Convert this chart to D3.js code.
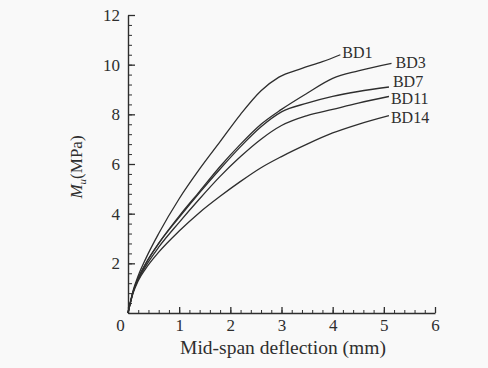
<!DOCTYPE html>
<html>
<head>
<meta charset="utf-8">
<script src="https://cdn.jsdelivr.net/npm/d3@7"></script>
<style>
  body { margin: 0; background: #f9f9f9; }
  svg { display: block; }
</style>
</head>
<body>
<div id="chart"></div>
<script>
// series names and readings (deflection mm, Mu MPa)
const names = ["BD1", "BD3", "BD7", "BD11", "BD14"];
const xBD1 = [0, 0.1, 0.2, 0.35, 0.6, 1.0, 1.4, 1.8, 2.2, 2.6, 2.95, 3.4, 3.8, 4.15];
const yBD1 = [0, 0.9, 1.5, 2.2, 3.2, 4.6, 5.8, 6.9, 8.0, 8.95, 9.5, 9.85, 10.12, 10.4];
const xBD3 = [0, 0.1, 0.2, 0.35, 0.6, 1.0, 1.4, 1.8, 2.2, 2.6, 3.0, 3.5, 4.0, 4.5, 5.15];
const yBD3 = [0, 0.85, 1.4, 2.0, 2.8, 3.9, 4.9, 5.9, 6.8, 7.6, 8.2, 8.85, 9.45, 9.75, 10.05];
const xBD7 = [0, 0.1, 0.2, 0.35, 0.6, 1.0, 1.4, 1.8, 2.2, 2.6, 3.0, 3.5, 4.0, 4.5, 5.1];
const yBD7 = [0, 0.85, 1.4, 2.0, 2.8, 3.85, 4.85, 5.8, 6.7, 7.5, 8.1, 8.45, 8.72, 8.92, 9.1];
const xBD11 = [0, 0.1, 0.2, 0.35, 0.6, 1.0, 1.4, 1.8, 2.2, 2.6, 3.0, 3.5, 4.0, 4.5, 5.1];
const yBD11 = [0, 0.85, 1.35, 1.9, 2.65, 3.65, 4.6, 5.5, 6.3, 7.0, 7.55, 7.95, 8.2, 8.45, 8.72];
const xBD14 = [0, 0.1, 0.2, 0.35, 0.6, 1.0, 1.4, 1.8, 2.2, 2.6, 3.0, 3.5, 4.0, 4.5, 5.1];
const yBD14 = [0, 0.8, 1.3, 1.8, 2.45, 3.3, 4.05, 4.7, 5.3, 5.85, 6.3, 6.8, 7.25, 7.6, 7.95];
const xTicks = [0, 1, 2, 3, 4, 5, 6];
const yTicks = [2, 4, 6, 8, 10, 12];

const xs = [xBD1, xBD3, xBD7, xBD11, xBD14];
const ys = [yBD1, yBD3, yBD7, yBD11, yBD14];
// label offsets from line end (px)
const labelDx = [2, 4, 4, 2, 2];
const labelDy = [-2, -1, -6, 2, 2];

const width = 488, height = 368;
const margin = { top: 15, right: 53, bottom: 55, left: 128 };
const w = width - margin.left - margin.right;
const h = height - margin.top - margin.bottom;
const serif = "'Liberation Serif', 'DejaVu Serif', serif";
const ink = "#2e2e2e";

const svg = d3.select("#chart").append("svg")
  .attr("width", width)
  .attr("height", height)
  .style("background", "#f9f9f9");

const g = svg.append("g")
  .attr("transform", "translate(" + margin.left + "," + margin.top + ")");

const xScale = d3.scaleLinear().domain([0, 6]).range([0, w]);
const yScale = d3.scaleLinear().domain([0, 12]).range([h, 0]);

// minor ticks first
g.append("g")
  .attr("transform", "translate(0," + h + ")")
  .call(d3.axisTop(xScale).tickValues(d3.range(0, 6.01, 0.2)).tickSize(3).tickFormat(""))
  .call(a => a.select(".domain").remove())
  .selectAll("line").attr("stroke", ink);

g.append("g")
  .call(d3.axisRight(yScale).tickValues(d3.range(0, 12.01, 0.4)).tickSize(4).tickFormat(""))
  .call(a => a.select(".domain").remove())
  .selectAll("line").attr("stroke", ink);

// x axis, ticks inward, labels below
const xAxis = g.append("g")
  .attr("transform", "translate(0," + h + ")")
  .call(d3.axisTop(xScale).tickValues(xTicks).tickSize(6).tickSizeOuter(0).tickFormat(d3.format("d")));
xAxis.attr("font-family", serif);
xAxis.select(".domain").attr("stroke", ink).attr("stroke-width", 1.4);
xAxis.selectAll(".tick line").attr("stroke", ink).attr("stroke-width", 1.3);
xAxis.selectAll(".tick text")
  .attr("y", 6)
  .attr("dy", "0.71em")
  .attr("fill", ink)
  .attr("font-family", serif)
  .style("font-size", "17px")
  .attr("x", d => d === 0 ? -8 : 0);

// y axis, ticks inward, labels left
const yAxis = g.append("g")
  .call(d3.axisRight(yScale).tickValues(yTicks).tickSize(7).tickSizeOuter(0).tickFormat(d3.format("d")));
yAxis.attr("font-family", serif);
yAxis.select(".domain").attr("stroke", ink).attr("stroke-width", 1.4);
yAxis.selectAll(".tick line").attr("stroke", ink).attr("stroke-width", 1.3);
yAxis.selectAll(".tick text")
  .attr("x", -8)
  .attr("text-anchor", "end")
  .attr("fill", ink)
  .attr("font-family", serif)
  .style("font-size", "17px");

// curves
const line = d3.line()
  .x(d => xScale(d[0]))
  .y(d => yScale(d[1]))
  .curve(d3.curveMonotoneX);

names.forEach((name, i) => {
  const pts = xs[i].map((x, j) => [x, ys[i][j]]);
  g.append("path")
    .datum(pts)
    .attr("fill", "none")
    .attr("stroke", ink)
    .attr("stroke-width", 1.3)
    .attr("d", line);

  const last = pts[pts.length - 1];
  g.append("text")
    .attr("x", xScale(last[0]) + labelDx[i])
    .attr("y", yScale(last[1]) + labelDy[i])
    .attr("dy", "0.35em")
    .attr("font-family", serif)
    .attr("font-size", 16)
    .attr("fill", ink)
    .text(name);
});

// axis titles
svg.append("text")
  .attr("x", 283)
  .attr("y", 354)
  .attr("text-anchor", "middle")
  .attr("font-family", serif)
  .attr("font-size", 19.5)
  .attr("fill", ink)
  .text("Mid-span deflection (mm)");

const yt = svg.append("text")
  .attr("transform", "translate(82,167) rotate(-90)")
  .attr("text-anchor", "middle")
  .attr("font-family", serif)
  .attr("font-size", 17)
  .attr("fill", ink);
yt.append("tspan").attr("font-style", "italic").text("M");
yt.append("tspan").attr("font-style", "italic").attr("font-size", 11).attr("dy", 4).text("u");
yt.append("tspan").attr("dy", -4).text("(MPa)");
</script>
</body>
</html>
